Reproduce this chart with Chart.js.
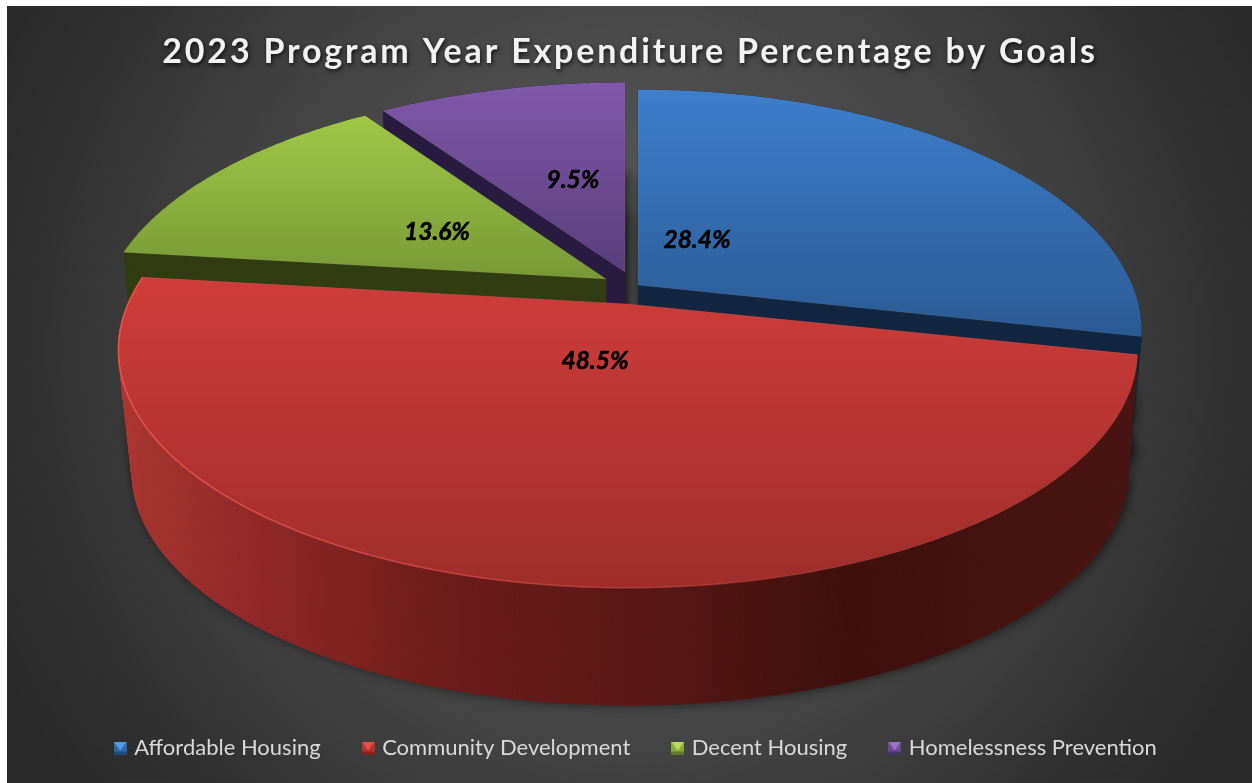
<!DOCTYPE html>
<html><head><meta charset="utf-8">
<style>html,body{margin:0;padding:0;background:#fff}canvas{display:block}</style>
<script src="https://cdn.jsdelivr.net/npm/chart.js@4"></script>
</head><body>
<div style="width:1252px;height:783px"><canvas id="c" width="1252" height="783"></canvas></div>
<script>
const chartTitle = "2023 Program Year Expenditure Percentage by Goals";
const categories = ["Affordable Housing", "Community Development", "Decent Housing", "Homelessness Prevention"];
const expenditurePct = [28.4, 48.5, 13.6, 9.5];

// styling per slice (not data)
const topColors  = [["#3e7ecb","#2a5a94"],["#cf3d3a","#9f2d2a"],["#9fc846","#789836"],["#8059aa","#5a3d7c"]];
const wallColors = ["#12263f","#7a1f1c","#323c12","#2a1c40"];
const legendColors = [["#5a9be8","#2f68ad","#1f4a80"],["#e8504c","#b8322f","#842220"],["#b8dc58","#86a83c","#5f7a28"],["#9a72c8","#6b4a94","#4a3268"]];
const apex   = [[638,285],[628,304],[606,279],[625,272]];
const radiusX = [494,500,497,499];
const radiusY = [233,229,229,226];
const wallShiftX = [0,2,0,0];
const persp = 0.193, wallDrop = 124, wallScale = 0.977;
const labelPos = [[697,240],[595,361],[437,232],[573,180]];

function pt(i, ang, r, level) {
  const u = Math.cos(ang) * r, v = Math.sin(ang) * r, w = 1 - persp * v;
  const s = 1 - (1 - wallScale) * level;
  return [apex[i][0] + wallShiftX[i] * level + s * radiusX[i] * u / w,
          apex[i][1] + wallDrop * level + s * radiusY[i] * v / w];
}
function arcPts(i, a0, a1, level) {
  const n = Math.max(4, Math.ceil(Math.abs(a1 - a0) / 0.01)), out = [];
  for (let k = 0; k <= n; k++) out.push(pt(i, a0 + (a1 - a0) * k / n, 1, level));
  return out;
}
function poly(ctx, pts) {
  ctx.beginPath();
  pts.forEach((p, k) => k ? ctx.lineTo(p[0], p[1]) : ctx.moveTo(p[0], p[1]));
  ctx.closePath();
}
function wedge(i, a0, a1, level) { return [pt(i, 0, 0, level)].concat(arcPts(i, a0, a1, level)); }

function legendIcon(c) {
  const cv = document.createElement("canvas"); cv.width = 13; cv.height = 13;
  const x = cv.getContext("2d"), S = 13, B = 3;
  x.fillStyle = c[1]; x.fillRect(0, 0, S, S);
  x.fillStyle = c[0];
  x.beginPath(); x.moveTo(0, 0); x.lineTo(S, 0); x.lineTo(S / 2, S * 0.72); x.closePath(); x.fill();
  x.fillStyle = c[2]; x.fillRect(0, S - B, S, B);
  return cv;
}

const pie3d = {
  id: "pie3d",
  beforeDraw(chart) {
    const ctx = chart.ctx;
    ctx.save();
    ctx.fillStyle = "#fff"; ctx.fillRect(0, 0, 1252, 783);
    const g = ctx.createRadialGradient(630, 350, 0, 630, 350, 770);
    g.addColorStop(0, "#5a5a5a"); g.addColorStop(0.36, "#4d4d4d"); g.addColorStop(0.53, "#434343");
    g.addColorStop(0.8, "#2f2f2f"); g.addColorStop(1, "#272727");
    ctx.fillStyle = g; ctx.fillRect(7, 6, 1245, 777);
    ctx.restore();
    const t = chart.titleBlock;
    if (t && !t._wrapped) {
      t._wrapped = true;
      const orig = t.draw;
      t.draw = function () {
        const c = this.ctx;
        c.save();
        c.translate(4, 0);
        c.letterSpacing = "2.8px";
        c.shadowColor = "rgba(0,0,0,.75)"; c.shadowBlur = 4; c.shadowOffsetX = 1; c.shadowOffsetY = 2;
        orig.call(this);
        c.restore();
      };
    }
  },
  afterLayout(chart) {
    chart.legend.top -= 14;
    chart.legend.left += 11;
    chart.legend.right += 11;
  },
  beforeDatasetsDraw(chart) {
    const ctx = chart.ctx, arcs = chart.getDatasetMeta(0).data;
    // soft shadow pass
    ctx.save();
    ctx.shadowColor = "rgba(0,0,0,.6)"; ctx.shadowBlur = 12; ctx.shadowOffsetX = 2;
    ctx.fillStyle = "#333";
    arcs.forEach((a, i) => {
      poly(ctx, wedge(i, a.startAngle, a.endAngle, 1)); ctx.fill();
      poly(ctx, wedge(i, a.startAngle, a.endAngle, 0.7)); ctx.fill();
    });
    ctx.restore();
    [3, 2, 0, 1].forEach(i => {
      const a = arcs[i], a0 = a.startAngle, a1 = a.endAngle;
      const top = arcPts(i, a0, a1, 0), bot = arcPts(i, a0, a1, 1);
      let wall = wallColors[i];
      if (i === 1) {
        const g = ctx.createLinearGradient(120, 0, 1135, 0);
        g.addColorStop(0, "#ad3631"); g.addColorStop(0.12, "#94292a");
        g.addColorStop(0.3, "#6f1d1b"); g.addColorStop(0.55, "#551614");
        g.addColorStop(0.72, "#3e0f0c"); g.addColorStop(1, "#4a1512");
        wall = g;
      }
      ctx.fillStyle = wall; ctx.strokeStyle = wall; ctx.lineWidth = 0.6;
      // radial walls
      [a0, a1].forEach(an => {
        poly(ctx, [pt(i, 0, 0, 0), pt(i, an, 1, 0), pt(i, an, 1, 1), pt(i, 0, 0, 1)]);
        ctx.fill();
      });
      // outer wall, one quad per arc step so the silhouette stays closed at the sides
      for (let k = 0; k + 1 < top.length; k++) {
        poly(ctx, [top[k], top[k + 1], bot[k + 1], bot[k]]);
        ctx.fill(); ctx.stroke();
      }
      // top face
      const ys = wedge(i, a0, a1, 0).map(p => p[1]);
      const g2 = ctx.createLinearGradient(0, Math.min(...ys), 0, Math.max(...ys));
      g2.addColorStop(0, topColors[i][0]); g2.addColorStop(1, topColors[i][1]);
      ctx.fillStyle = g2;
      poly(ctx, wedge(i, a0, a1, 0)); ctx.fill();
      ctx.strokeStyle = "rgba(255,255,255,.07)"; ctx.lineWidth = 1; ctx.stroke();
      if (i === 1) {
        const rim = ctx.createLinearGradient(120, 0, 1100, 0);
        rim.addColorStop(0, "rgba(240,85,78,.85)"); rim.addColorStop(0.5, "rgba(225,75,68,.45)");
        rim.addColorStop(0.85, "rgba(200,60,55,0)");
        ctx.strokeStyle = rim; ctx.lineWidth = 1.6;
        ctx.beginPath();
        top.forEach((p, k) => k ? ctx.lineTo(p[0], p[1]) : ctx.moveTo(p[0], p[1]));
        ctx.stroke();
      }
    });
    return false;
  },
  afterDraw(chart) {
    const ctx = chart.ctx;
    ctx.save();
    ctx.font = "italic bold 24.5px Lato";
    ctx.fillStyle = "#000"; ctx.strokeStyle = "#000"; ctx.lineWidth = 0.5;
    ctx.textAlign = "center"; ctx.textBaseline = "middle";
    expenditurePct.forEach((v, i) => {
      const s = v.toFixed(1) + "%";
      ctx.fillText(s, labelPos[i][0], labelPos[i][1]);
      ctx.strokeText(s, labelPos[i][0], labelPos[i][1]);
    });
    ctx.restore();
  }
};

new Chart(document.getElementById("c"), {
  type: "pie",
  plugins: [pie3d],
  data: {
    labels: categories,
    datasets: [{ data: expenditurePct, backgroundColor: topColors.map(c => c[0]) }]
  },
  options: {
    responsive: false, animation: false, events: [],
    plugins: {
      tooltip: { enabled: false },
      title: {
        display: true, text: chartTitle, color: "#f2f2f2",
        font: { family: "Lato", weight: "bold", size: 34 },
        padding: { top: 32, bottom: 10 }
      },
      legend: {
        position: "bottom",
        labels: {
          usePointStyle: true, boxWidth: 6, boxHeight: 13,
          padding: 44.5, color: "#d9d9d9",
          font: { family: "Lato", size: 22 },
          generateLabels: () => categories.map((t, i) => ({
            text: t, pointStyle: legendIcon(legendColors[i]), fontColor: "#d9d9d9",
            fillStyle: legendColors[i][1], strokeStyle: "transparent", lineWidth: 0, hidden: false, index: i
          }))
        }
      }
    }
  }
});
</script>
</body></html>
